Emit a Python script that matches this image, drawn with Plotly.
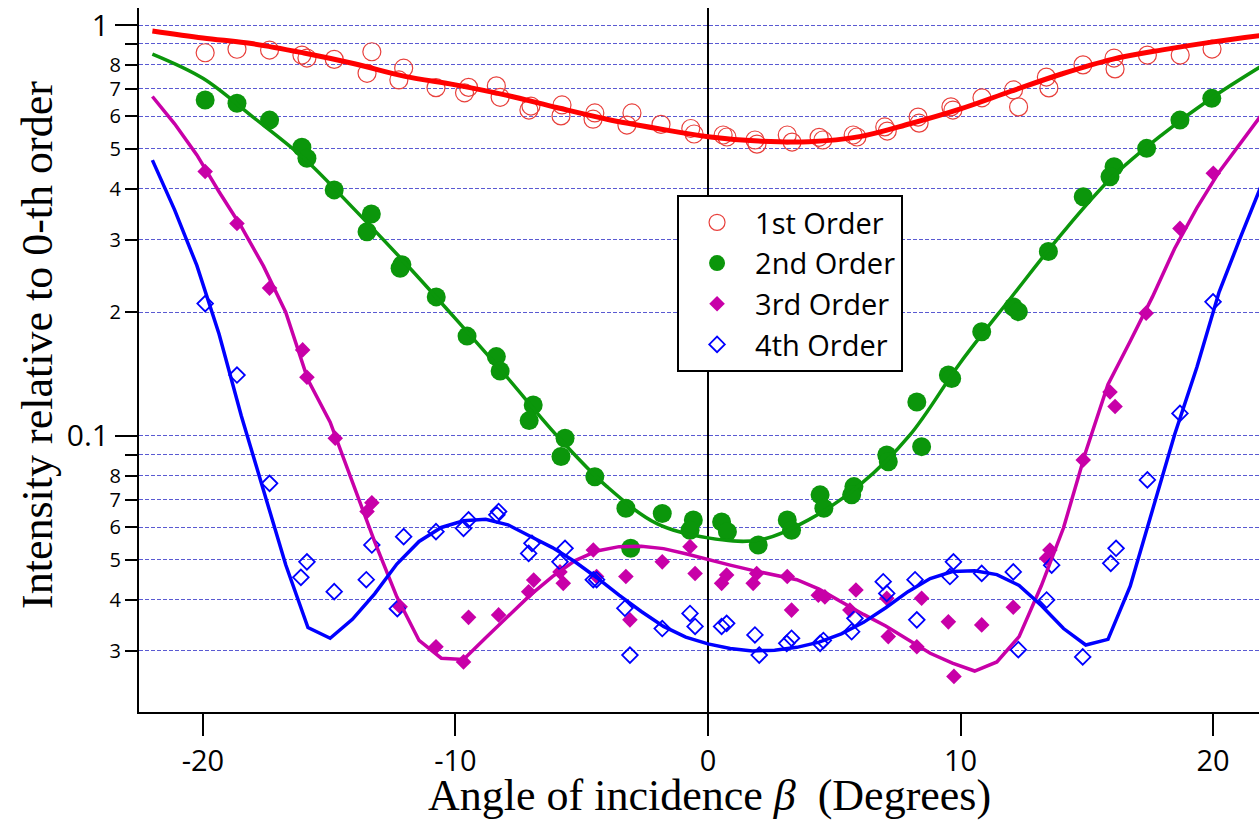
import plotly.graph_objects as go

# ---------------- measured intensities (relative to 0-th order) ----------------
order1_x = [-19.91, -18.65, -17.36, -16.08, -15.88, -14.80, -13.31, -13.50, -12.05, -12.24,
            -10.77, -9.48, -9.64, -8.38, -8.23, -7.01, -7.09, -5.78, -5.82, -4.48, -4.55,
            -3.01, -3.21, -1.86, -0.68, -0.55, 0.60, 0.75, 1.86, 1.94, 3.14, 3.33, 4.40,
            4.55, 5.75, 5.90, 7.00, 7.10, 8.32, 8.36, 9.62, 9.70, 10.85, 12.10, 12.30,
            13.40, 13.50, 14.85, 16.08, 16.12, 17.40, 18.70, 19.96]
order1_y = [0.856, 0.873, 0.869, 0.845, 0.831, 0.825, 0.861, 0.763, 0.785, 0.735,
            0.704, 0.705, 0.684, 0.711, 0.667, 0.635, 0.621, 0.639, 0.601, 0.611, 0.590,
            0.611, 0.571, 0.573, 0.560, 0.543, 0.540, 0.534, 0.525, 0.513, 0.540, 0.519, 0.533,
            0.525, 0.540, 0.534, 0.565, 0.552, 0.597, 0.577, 0.632, 0.621, 0.665, 0.695, 0.632,
            0.747, 0.703, 0.800, 0.831, 0.782, 0.845, 0.845, 0.874]

order2_x = [-19.91, -18.65, -17.36, -16.08, -15.88, -14.80, -13.33, -13.50, -12.12, -12.19,
            -10.76, -9.54, -8.38, -8.23, -6.92, -7.08, -5.66, -5.82, -4.48, -3.25, -3.06,
            -1.81, -0.58, -0.71, 0.54, 0.77, 1.99, 3.14, 3.31, 4.44, 4.59, 5.78, 5.69,
            7.08, 7.14, 8.27, 8.46, 9.52, 9.65, 10.84, 12.09, 12.29, 13.48, 14.86, 16.08,
            15.92, 17.37, 18.69, 19.95]
order2_y = [0.657, 0.645, 0.587, 0.504, 0.474, 0.397, 0.347, 0.314, 0.261, 0.256,
            0.218, 0.175, 0.156, 0.144, 0.119, 0.109, 0.0987, 0.0891, 0.0796, 0.0667, 0.0533,
            0.0648, 0.0625, 0.0590, 0.0618, 0.0585, 0.0543, 0.0625, 0.0590, 0.0719, 0.0667, 0.0753, 0.0719,
            0.0899, 0.0866, 0.121, 0.0942, 0.1407, 0.138, 0.1794, 0.206, 0.2007, 0.281, 0.382, 0.452,
            0.4275, 0.501, 0.587, 0.663]

order3_x = [-19.91, -18.65, -17.36, -16.05, -15.88, -14.76, -13.31, -13.50, -12.19, -10.77,
            -9.68, -9.48, -8.29, -7.10, -6.90, -5.73, -5.86, -4.54, -4.41, -3.25, -3.09,
            -1.81, -0.71, -0.51, 0.54, 0.74, 1.93, 1.79, 3.14, 3.31, 4.37, 4.63, 5.86,
            5.62, 7.14, 7.08, 8.27, 8.46, 9.52, 9.74, 10.84, 12.09, 13.41, 13.54, 14.86,
            15.92, 16.12, 17.35, 18.69, 20.01]
order3_y = [0.440, 0.329, 0.229, 0.162, 0.139, 0.0987, 0.0688, 0.0655, 0.0384, 0.0307,
            0.0282, 0.0362, 0.0367, 0.0418, 0.0446, 0.0438, 0.0467, 0.0528, 0.0455, 0.0455, 0.0357,
            0.0494, 0.0538, 0.0463, 0.0438, 0.0459, 0.0463, 0.0438, 0.0455, 0.0377, 0.0410, 0.0406, 0.0422,
            0.0377, 0.0325, 0.0403, 0.0307, 0.0403, 0.0353, 0.0260, 0.0347, 0.0383, 0.0504, 0.0528, 0.0874,
            0.128, 0.118, 0.199, 0.320, 0.436]

order4_x = [-19.91, -18.65, -17.36, -15.88, -16.12, -14.80, -13.53, -13.31, -12.30, -12.05,
            -10.77, -9.68, -9.48, -8.29, -8.36, -7.10, -6.97, -5.86, -5.66, -4.54, -4.41,
            -3.29, -3.09, -1.81, -0.71, -0.51, 0.54, 0.74, 1.86, 2.03, 3.12, 3.31, 4.44,
            4.57, 5.69, 5.82, 6.94, 7.08, 8.20, 8.27, 9.72, 9.58, 10.84, 12.09, 12.29,
            13.41, 13.61, 14.84, 15.95, 16.16, 17.40, 18.69, 20.00]
order4_y = [0.210, 0.1407, 0.0767, 0.0494, 0.0453, 0.0418, 0.0447, 0.0543, 0.0380, 0.0569,
            0.0585, 0.0596, 0.0625, 0.0655, 0.0643, 0.0518, 0.0548, 0.0494, 0.0533, 0.0447, 0.0447,
            0.0381, 0.0293, 0.0340, 0.0370, 0.0344, 0.0344, 0.0350, 0.0328, 0.0293, 0.0313, 0.0322, 0.0313,
            0.0318, 0.0334, 0.0360, 0.0442, 0.0414, 0.0447, 0.0357, 0.0494, 0.0455, 0.0463, 0.0467, 0.0302,
            0.0399, 0.0485, 0.0290, 0.0490, 0.0533, 0.0782, 0.1135, 0.212]

# ---------------- model curves ----------------
fit12_x = [-22, -20, -18, -16, -14, -12, -10, -8, -6, -4, -2, 0,
           2, 4, 6, 8, 10, 12, 14, 16, 18, 20, 22]
fit1_y = [0.967, 0.93, 0.90, 0.855, 0.805, 0.75, 0.715, 0.675, 0.63, 0.59, 0.56, 0.535,
          0.522, 0.52, 0.535, 0.575, 0.625, 0.69, 0.76, 0.825, 0.87, 0.91, 0.945]
fit2_y = [0.85, 0.742, 0.596, 0.474, 0.356, 0.264, 0.193, 0.140, 0.1005, 0.0753, 0.0611, 0.0565,
          0.0558, 0.0626, 0.0759, 0.1006, 0.151, 0.217, 0.310, 0.426, 0.542, 0.668, 0.80]

fit34_x = [-22.00, -21.12, -20.24, -19.36, -18.48, -17.60, -16.72, -15.84, -14.96, -14.08,
           -13.20, -12.32, -11.44, -10.56, -9.68, -8.80, -7.92, -7.04, -6.16, -5.28,
           -4.40, -3.52, -2.64, -1.76, -0.88, 0.00, 0.88, 1.76, 2.64, 3.52,
           4.40, 5.28, 6.16, 7.04, 7.92, 8.80, 9.68, 10.56, 11.44, 12.32,
           13.20, 14.08, 14.96, 15.84, 16.72, 17.60, 18.48, 19.36, 20.24, 21.12, 22.00]
fit3_y = [0.67, 0.575, 0.483, 0.393, 0.323, 0.259, 0.200, 0.137, 0.108, 0.077,
          0.0553, 0.0406, 0.0318, 0.0288, 0.0286, 0.0323, 0.0365, 0.0410, 0.0455, 0.0497,
          0.0525, 0.0538, 0.0539, 0.0532, 0.0517, 0.0500, 0.0485, 0.0471, 0.0460, 0.0447,
          0.0424, 0.0395, 0.0368, 0.0345, 0.0320, 0.0296, 0.0280, 0.0268, 0.0282, 0.0325,
          0.0432, 0.0598, 0.0916, 0.1334, 0.170, 0.218, 0.286, 0.359, 0.439, 0.519, 0.614]
fit4_y = [0.469, 0.355, 0.260, 0.177, 0.112, 0.0736, 0.0486, 0.0342, 0.0322, 0.0358,
          0.0413, 0.0488, 0.0554, 0.0599, 0.0622, 0.0627, 0.0608, 0.0570, 0.0535, 0.0495,
          0.0452, 0.0410, 0.0374, 0.0344, 0.0324, 0.0312, 0.0304, 0.0300, 0.0301, 0.0306,
          0.0315, 0.0330, 0.0352, 0.0382, 0.0418, 0.0450, 0.0468, 0.0470, 0.0460, 0.0433,
          0.0387, 0.0340, 0.0310, 0.0320, 0.0431, 0.066, 0.1008, 0.147, 0.224, 0.308, 0.420]

# ---------------- axis ticks ----------------
x_ticks = [-20, -10, 0, 10, 20]
x_ticktext = ["-20", "-10", "0", "10", "20"]
y_minor_vals = [0.03, 0.04, 0.05, 0.06, 0.07, 0.08, 0.09,
                0.2, 0.3, 0.4, 0.5, 0.6, 0.7, 0.8, 0.9]
y_minor_text = ["3", "4", "5", "6", "7", "8", "",
                "2", "3", "4", "5", "6", "7", "8", ""]
y_major_vals = [0.1, 1]
y_major_text = ["0.1", "1"]

RED = "#ff0000"
RED_MK = "#e8403c"
GREEN = "#0b960b"
MAGENTA = "#c800a8"
BLUE = "#0000ff"
GRID = "#5a5ad2"
TICKFONT = "Open Sans"
SERIF = "Liberation Serif"

fig = go.Figure()

# markers (legend entries)
fig.add_trace(go.Scatter(x=order1_x, y=order1_y, mode="markers", name="1st Order",
                         marker=dict(symbol="circle-open", size=18, color=RED_MK,
                                     line=dict(width=1.2, color=RED_MK))))
fig.add_trace(go.Scatter(x=order2_x, y=order2_y, mode="markers", name="2nd Order",
                         marker=dict(symbol="circle", size=19, color=GREEN)))
fig.add_trace(go.Scatter(x=order3_x, y=order3_y, mode="markers", name="3rd Order",
                         marker=dict(symbol="diamond", size=12, color=MAGENTA)))
fig.add_trace(go.Scatter(x=order4_x, y=order4_y, mode="markers", name="4th Order",
                         marker=dict(symbol="diamond-open", size=12, color=BLUE,
                                     line=dict(width=1.8, color=BLUE))))

# model curves
fig.add_trace(go.Scatter(x=fit12_x, y=fit1_y, mode="lines", showlegend=False, hoverinfo="skip",
                         line=dict(color=RED, width=5, shape="spline", smoothing=1.0)))
fig.add_trace(go.Scatter(x=fit12_x, y=fit2_y, mode="lines", showlegend=False, hoverinfo="skip",
                         line=dict(color=GREEN, width=3.5, shape="spline", smoothing=1.0)))
fig.add_trace(go.Scatter(x=fit34_x, y=fit3_y, mode="lines", showlegend=False, hoverinfo="skip",
                         line=dict(color=MAGENTA, width=3.5)))
fig.add_trace(go.Scatter(x=fit34_x, y=fit4_y, mode="lines", showlegend=False, hoverinfo="skip",
                         line=dict(color=BLUE, width=3.5)))

# carrier for the decade ticks axis
fig.add_trace(go.Scatter(x=[0], y=[None], yaxis="y2", mode="markers", showlegend=False,
                         hoverinfo="skip"))

yrange = [-1.6716, 0.0414]

fig.update_layout(
    width=1259, height=822,
    margin=dict(l=139, r=0, t=8, b=110, pad=0),
    paper_bgcolor="white", plot_bgcolor="white",
    showlegend=True,
    legend=dict(x=0.4804, y=0.7344, xanchor="left", yanchor="top",
                bgcolor="white", bordercolor="black", borderwidth=2,
                font=dict(family=TICKFONT, size=29, color="black"),
                itemsizing="trace", itemwidth=66, tracegroupgap=0),
    xaxis=dict(range=[-22.53, 21.82], tickvals=x_ticks, ticktext=x_ticktext,
               ticks="outside", ticklen=22, tickwidth=2, tickcolor="black",
               tickfont=dict(family=TICKFONT, size=29, color="black"),
               showline=True, linecolor="black", linewidth=2,
               showgrid=False, zeroline=True, zerolinecolor="black", zerolinewidth=2),
    yaxis=dict(type="log", range=yrange, tickvals=y_minor_vals, ticktext=y_minor_text,
               ticks="outside", ticklen=12, tickwidth=2, tickcolor="black",
               tickfont=dict(family=TICKFONT, size=20, color="black"),
               showline=True, linecolor="black", linewidth=2,
               showgrid=True, gridcolor=GRID, gridwidth=1, griddash="4px,2px",
               zeroline=False),
    yaxis2=dict(type="log", range=yrange, overlaying="y", side="left",
                tickvals=y_major_vals, ticktext=y_major_text,
                ticks="outside", ticklen=23, tickwidth=2, tickcolor="black",
                tickfont=dict(family=TICKFONT, size=30, color="black"),
                showline=False, showgrid=True, gridcolor=GRID, gridwidth=1,
                griddash="4px,2px", zeroline=False),
)

# axis titles
fig.add_annotation(text="Intensity relative to 0-th order", xref="paper", yref="paper",
                   x=-0.0911, y=0.5213, xanchor="center", yanchor="middle",
                   textangle=-90, showarrow=False,
                   font=dict(family=SERIF, size=44, color="black"))
fig.add_annotation(text="Angle of incidence <i>β</i>  (Degrees)", xref="paper", yref="paper",
                   x=0.5098, y=-0.1193, xanchor="center", yanchor="middle",
                   showarrow=False,
                   font=dict(family=SERIF, size=44, color="black"))

fig.write_html("out.html")
